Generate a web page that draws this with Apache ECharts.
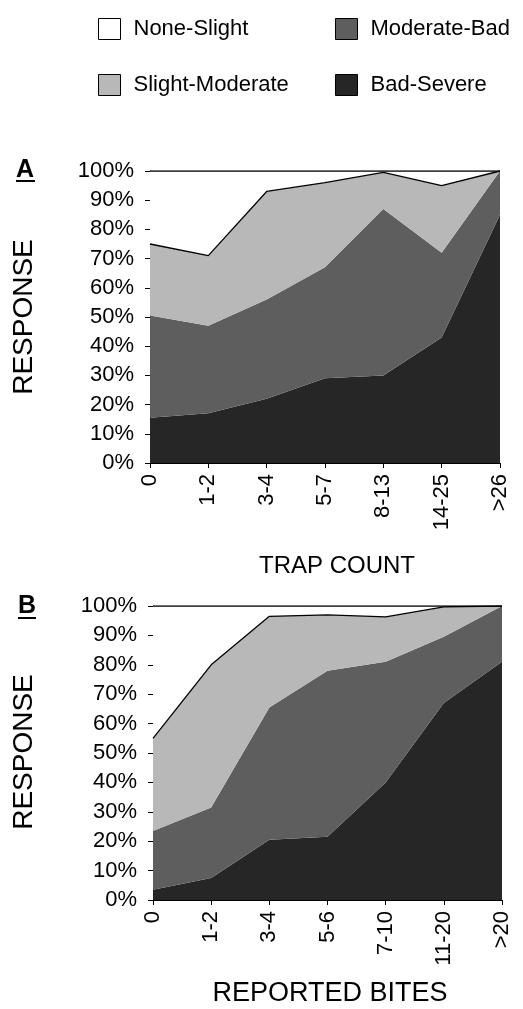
<!DOCTYPE html>
<html>
<head>
<meta charset="utf-8">
<script src="https://cdn.jsdelivr.net/npm/echarts@6/dist/echarts.min.js"></script>
<style>
  html, body { margin: 0; padding: 0; background: #fff; }
  #chart { width: 523px; height: 1009px; }
</style>
</head>
<body>
<div id="chart"></div>
<script>
// categories
const trapCats = ['0', '1-2', '3-4', '5-7', '8-13', '14-25', '>26'];
const biteCats = ['0', '1-2', '3-4', '5-6', '7-10', '11-20', '>20'];
const yTicks = [0, 10, 20, 30, 40, 50, 60, 70, 80, 90, 100];

// panel A (trap count), percent per class, stacked from the bottom
const trapBadSevere = [15.5, 17, 22, 29, 30, 43, 85];
const trapModBad = [35, 30, 34, 38, 57, 29, 15];
const trapSlightMod = [24.5, 24, 37, 29, 12.5, 23, 0];
const trapNoneSlight = [25, 29, 7, 4, 0.5, 5, 0];

// panel B (reported bites)
const biteBadSevere = [3.5, 7.5, 20.5, 21.5, 40, 67, 81];
const biteModBad = [20, 24, 45, 56.5, 41, 22.5, 19];
const biteSlightMod = [31.5, 48.5, 31, 19, 15.3, 10.2, 0];
const biteNoneSlight = [45, 20, 3.5, 3, 3.7, 0.3, 0];

const FONT = '"Liberation Sans", Arial, sans-serif';
const colors = {
  'None-Slight': '#ffffff',
  'Slight-Moderate': '#b8b8b8',
  'Moderate-Bad': '#5e5e5e',
  'Bad-Severe': '#262626'
};

const chart = echarts.init(document.getElementById('chart'), null, { renderer: 'canvas' });

function makeSeries(idx, stack, data) {
  const names = ['Bad-Severe', 'Moderate-Bad', 'Slight-Moderate', 'None-Slight'];
  return names.map((name, i) => ({
    name: name,
    type: 'line',
    xAxisIndex: idx,
    yAxisIndex: idx,
    stack: stack,
    data: data[i],
    symbol: 'none',
    silent: true,
    lineStyle: {
      color: '#000',
      width: (name === 'Slight-Moderate' || name === 'None-Slight') ? 1.3 : 0
    },
    areaStyle: { color: colors[name], opacity: 1 },
    z: 2
  }));
}

function xAxis(idx, cats) {
  return {
    type: 'category',
    gridIndex: idx,
    data: cats,
    boundaryGap: false,
    axisLine: { lineStyle: { color: '#000', width: 1 } },
    axisTick: { length: 5, lineStyle: { color: '#000' } },
    axisLabel: {
      rotate: 90,
      margin: 11,
      color: '#000',
      fontSize: 22,
      fontFamily: FONT,
      interval: 0
    },
    splitLine: { show: false }
  };
}

function yAxis(idx) {
  return {
    type: 'value',
    gridIndex: idx,
    min: 0,
    max: 100,
    interval: 10,
    axisLine: { show: true, lineStyle: { color: '#000', width: 1 } },
    axisTick: { show: true, length: 5, lineStyle: { color: '#000' } },
    axisLabel: {
      formatter: v => (yTicks.indexOf(v) >= 0 ? v + '%' : ''),
      margin: 16,
      color: '#000',
      fontSize: 22,
      fontFamily: FONT
    },
    splitLine: { show: false }
  };
}

function legendData(names) {
  return names.map(n => ({
    name: n,
    itemStyle: { color: colors[n], borderColor: '#000', borderWidth: 1 }
  }));
}

const legendCommon = {
  orient: 'vertical',
  top: 18,
  padding: 0,
  icon: 'rect',
  itemWidth: 22,
  itemHeight: 21,
  itemGap: 34,
  selectedMode: false,
  textStyle: { fontSize: 22, fontFamily: FONT, color: '#000', padding: [0, 0, 0, 8] }
};

function label(text, x, y, size, extra) {
  return {
    type: 'text',
    left: x,
    top: y,
    style: Object.assign({ text: text, fontSize: size, fontFamily: FONT, fill: '#000' }, extra || {})
  };
}

function vertLabel(text, cx, cy) {
  return {
    type: 'text',
    x: cx,
    y: cy,
    rotation: Math.PI / 2,
    style: {
      text: text, fontSize: 28, fontFamily: FONT, fill: '#000',
      align: 'center', verticalAlign: 'middle'
    }
  };
}

const option = {
  animation: false,
  backgroundColor: '#fff',
  legend: [
    Object.assign({ left: 98, data: legendData(['None-Slight', 'Slight-Moderate']) }, legendCommon),
    Object.assign({ left: 335, data: legendData(['Moderate-Bad', 'Bad-Severe']) }, legendCommon)
  ],
  grid: [
    { left: 150, top: 171, width: 350, height: 292 },
    { left: 153, top: 606, width: 349, height: 294 }
  ],
  xAxis: [xAxis(0, trapCats), xAxis(1, biteCats)],
  yAxis: [yAxis(0), yAxis(1)],
  series: [
    ...makeSeries(0, 'trap', [trapBadSevere, trapModBad, trapSlightMod, trapNoneSlight]),
    ...makeSeries(1, 'bite', [biteBadSevere, biteModBad, biteSlightMod, biteNoneSlight])
  ],
  graphic: [
    label('A', 16, 158, 25, { fontWeight: 'bold' }),
    { type: 'rect', left: 16, top: 180, shape: { width: 19, height: 2 }, style: { fill: '#000' } },
    label('B', 18, 594, 25, { fontWeight: 'bold' }),
    { type: 'rect', left: 18, top: 617, shape: { width: 18, height: 2 }, style: { fill: '#000' } },
    vertLabel('RESPONSE', 24, 317),
    vertLabel('RESPONSE', 24, 752),
    {
      type: 'text', x: 337, y: 566,
      style: { text: 'TRAP COUNT', fontSize: 24, fontFamily: FONT, fill: '#000', align: 'center', verticalAlign: 'middle' }
    },
    {
      type: 'text', x: 330, y: 994,
      style: { text: 'REPORTED BITES', fontSize: 27, fontFamily: FONT, fill: '#000', align: 'center', verticalAlign: 'middle' }
    }
  ]
};

chart.setOption(option);
</script>
</body>
</html>
